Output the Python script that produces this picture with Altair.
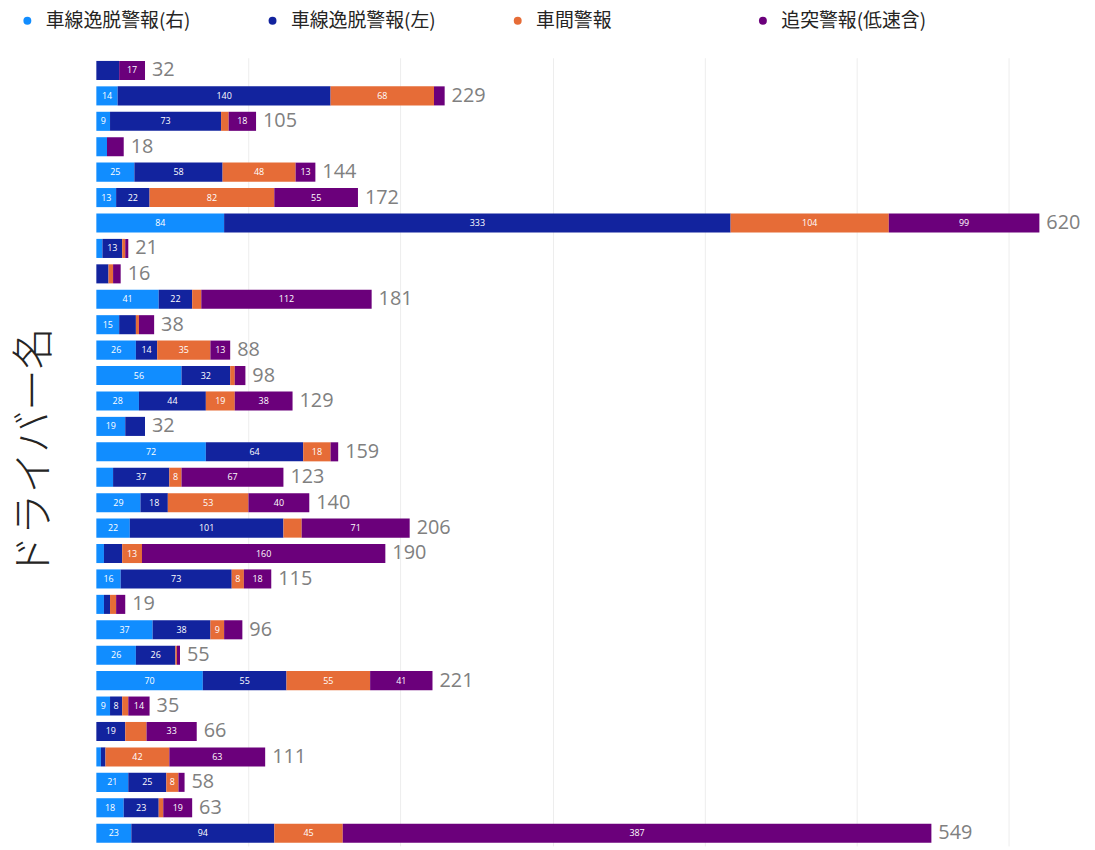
import altair as alt
import pandas as pd

# ---- data ----
series = ["車線逸脱警報(右)", "車線逸脱警報(左)", "車間警報", "追突警報(低速含)"]
colors = ["#118DFF", "#12239E", "#E66C37", "#6B007B"]

drivers = [f"ドライバー{i:02d}" for i in range(1, 32)]

lane_right = [0, 14, 9, 7, 25, 13, 84, 4, 0, 41, 15, 26, 56, 28, 19, 72, 11, 29, 22, 5, 16, 5, 37, 26, 70, 9, 0, 3, 21, 18, 23]
lane_left = [15, 140, 73, 0, 58, 22, 333, 13, 8, 22, 11, 14, 32, 44, 13, 64, 37, 18, 101, 12, 73, 4, 38, 26, 55, 8, 19, 3, 25, 23, 94]
headway = [0, 68, 5, 0, 48, 82, 104, 2, 3, 6, 2, 35, 3, 19, 0, 18, 8, 53, 12, 13, 8, 4, 9, 1, 55, 4, 14, 42, 8, 3, 45]
collision = [17, 7, 18, 11, 13, 55, 99, 2, 5, 112, 10, 13, 7, 38, 0, 5, 67, 40, 71, 160, 18, 6, 12, 2, 41, 14, 33, 63, 4, 19, 387]

# rows (1-based) whose segment shows a data label in the reference
labeled_right = [2, 3, 5, 6, 7, 10, 11, 12, 13, 14, 15, 16, 18, 19, 21, 23, 24, 25, 26, 29, 30, 31]
labeled_left = [2, 3, 5, 6, 7, 8, 10, 12, 13, 14, 16, 17, 18, 19, 21, 23, 24, 25, 26, 27, 29, 30, 31]
labeled_headway = [2, 5, 6, 7, 12, 14, 16, 17, 18, 20, 21, 23, 25, 28, 29, 31]
labeled_collision = [1, 3, 5, 6, 7, 10, 12, 14, 17, 18, 19, 20, 21, 25, 26, 27, 28, 30, 31]

values = [lane_right, lane_left, headway, collision]
labeled = [labeled_right, labeled_left, labeled_headway, labeled_collision]

rows = []
for si, (name, vals, lab) in enumerate(zip(series, values, labeled)):
    for ri, (d, v) in enumerate(zip(drivers, vals)):
        rows.append({"driver": d, "series": name, "order": si, "value": v,
                     "label": str(v) if (ri + 1) in lab else ""})
df = pd.DataFrame(rows)
totals = pd.DataFrame({"driver": drivers,
                       "total": [a + b + c + e for a, b, c, e in zip(*values)]})

FONT_JP = "Noto Sans CJK JP"

y_enc = alt.Y("driver:N", sort=drivers,
              scale=alt.Scale(paddingInner=0.25, paddingOuter=0.125),
              axis=alt.Axis(title="ドライバー名", labels=False, ticks=False, domain=False,
                            titleFont=FONT_JP, titleFontSize=42, titleFontWeight=300,
                            titleColor="#252423", titlePadding=40))
x_scale = alt.Scale(domain=[0, 650], nice=False)

base = alt.Chart(df).transform_stack(
    stack="value", groupby=["driver"], as_=["x0", "x1"],
    sort=[alt.SortField("order", order="ascending")]
)

bars = base.mark_bar().encode(
    y=y_enc,
    x=alt.X("x0:Q", scale=x_scale,
            axis=alt.Axis(title=None, labels=False, ticks=False, domain=False,
                          grid=True, gridColor="#ededed", values=[100, 200, 300, 400, 500, 600])),
    x2="x1:Q",
    color=alt.Color("series:N", sort=series,
                    scale=alt.Scale(domain=series, range=colors),
                    legend=alt.Legend(title=None, orient="none", direction="horizontal",
                                      columns=4, gridAlign="all", columnPadding=73,
                                      legendX=-79, legendY=-47, padding=0,
                                      symbolType="circle", symbolSize=64, symbolStrokeWidth=0,
                                      labelFont=FONT_JP, labelFontSize=19, labelColor="#252423",
                                      labelOffset=9, labelLimit=300)),
)

seg_text = base.transform_calculate(mid="(datum.x0 + datum.x1) / 2").mark_text(
    color="white", fontSize=9, font="Open Sans", baseline="middle", align="center"
).encode(
    y=alt.Y("driver:N", sort=drivers),
    x=alt.X("mid:Q", scale=x_scale),
    text="label:N",
)

tot_text = alt.Chart(totals).mark_text(
    align="left", baseline="middle", dx=7, fontSize=20, font="Open Sans", color="#808080"
).encode(
    y=alt.Y("driver:N", sort=drivers),
    x=alt.X("total:Q", scale=x_scale),
    text="total:Q",
)

chart = alt.layer(bars, seg_text, tot_text).properties(
    width=996, height=794,
    background="white",
    autosize=alt.AutoSizeParams(type="none"),
    padding={"left": 89, "top": 47, "right": 2, "bottom": 0},
).configure_view(strokeWidth=0, stroke="transparent")

chart.save("out.html", embed_options={"renderer": "svg", "actions": False})
